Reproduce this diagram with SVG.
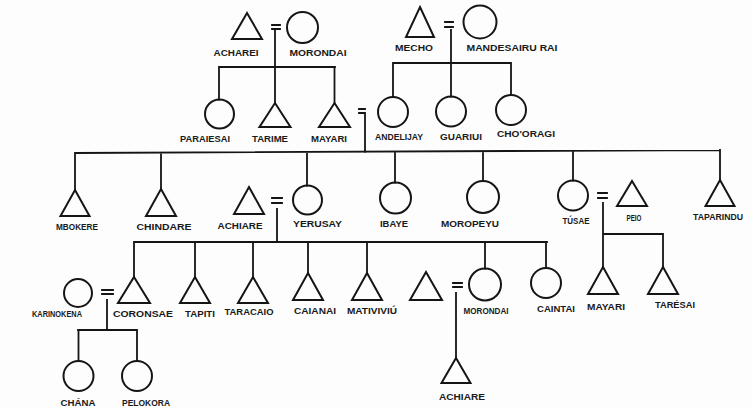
<svg xmlns="http://www.w3.org/2000/svg" width="752" height="408" viewBox="0 0 752 408">
<style>
.s{fill:none;stroke:#151515;stroke-width:2}
.c{fill:none;stroke:#151515;stroke-width:1.8;stroke-linecap:square}
text{font-family:"Liberation Sans",Arial,sans-serif;font-weight:bold;font-size:8.5px;fill:#1a1a1a;text-anchor:middle}
</style>
<rect width="752" height="408" fill="#fdfdfd"/>
<g id="connectors" class="c">
<path d="M272 25H280M272 29H280M445 22H453M445 27H453M359 109H365M359 113H365M272 198H282M272 203H282M598 193H607M598 198H607M102 290H113M102 294H113M453 283H462M453 287H462"/>
<path d="M275 31V103M219 67H335M219 67V99.5M334.5 67V103"/>
<path d="M451 30V96.5M393 63H511M393 63V97M511 63V95"/>
<path d="M365 115V152M75 153L720 150M75 153V190M161 152.6V189M307 152V185.5M395 151.6V182.5M483 151.2V181M573 150.8V180.5M720 150V180"/>
<path d="M277 209V242M134 242H547M134 242V277M195 242V277M253 242V277M308 242V273M367 242V273M485 242V268.5M546 242V268"/>
<path d="M603 203V267M603 234H663M663 234V267"/>
<path d="M107 300V330M78 330H137M78.5 330V361M137 330V361"/>
<path d="M456 293V358"/>
</g>
<g id="n-acharei"><polygon class="s" points="247,13 262,39 232,39"/><text x="236" y="56" textLength="45" lengthAdjust="spacingAndGlyphs">ACHAREI</text></g>
<g id="n-morondai1"><circle class="s" cx="302.5" cy="27.5" r="15.5"/><text x="318" y="56" textLength="57" lengthAdjust="spacingAndGlyphs">MORONDAI</text></g>
<g id="n-mecho"><polygon class="s" points="420,7 434,37 406,37"/><text x="414" y="51" textLength="38" lengthAdjust="spacingAndGlyphs">MECHO</text></g>
<g id="n-mandesairu"><circle class="s" cx="480" cy="22" r="16.5"/><text x="512" y="51" textLength="91" lengthAdjust="spacingAndGlyphs">MANDESAIRU RAI</text></g>
<g id="n-paraiesai"><circle class="s" cx="219.5" cy="114" r="14.5"/><text x="205" y="142" textLength="50" lengthAdjust="spacingAndGlyphs">PARAIESAI</text></g>
<g id="n-tarime"><polygon class="s" points="275,103 290.5,127 259.5,127"/><text x="270" y="142" textLength="36" lengthAdjust="spacingAndGlyphs">TARIME</text></g>
<g id="n-mayari1"><polygon class="s" points="334.5,103 350,127 319,127"/><text x="329" y="142" textLength="36" lengthAdjust="spacingAndGlyphs">MAYARI</text></g>
<g id="n-andelijay"><circle class="s" cx="393" cy="112" r="15"/><text x="399" y="140" textLength="48" lengthAdjust="spacingAndGlyphs">ANDELIJAY</text></g>
<g id="n-guariui"><circle class="s" cx="451" cy="111.5" r="15"/><text x="461" y="140" textLength="42" lengthAdjust="spacingAndGlyphs">GUARIUI</text></g>
<g id="n-choragi"><circle class="s" cx="511" cy="110" r="15"/><text x="526" y="137" textLength="58" lengthAdjust="spacingAndGlyphs">CHO'ORAGI</text></g>
<g id="n-mbokere"><polygon class="s" points="75,190 89.5,216 60.5,216"/><text x="77" y="230" textLength="42" lengthAdjust="spacingAndGlyphs">MBOKERE</text></g>
<g id="n-chindare"><polygon class="s" points="161,189 176,216 146,216"/><text x="164" y="230" textLength="55" lengthAdjust="spacingAndGlyphs">CHINDARE</text></g>
<g id="n-achiare1"><polygon class="s" points="249,187 264,214 234,214"/><text x="240" y="229" textLength="45" lengthAdjust="spacingAndGlyphs">ACHIARE</text></g>
<g id="n-yerusay"><circle class="s" cx="307.5" cy="200" r="14.5"/><text x="317.5" y="227" textLength="49" lengthAdjust="spacingAndGlyphs">YERUSAY</text></g>
<g id="n-ibaye"><circle class="s" cx="395.5" cy="198" r="15.5"/><text x="394" y="227" textLength="28" lengthAdjust="spacingAndGlyphs">IBAYE</text></g>
<g id="n-moropeyu"><circle class="s" cx="483" cy="197" r="16"/><text x="470" y="227" textLength="58" lengthAdjust="spacingAndGlyphs">MOROPEYU</text></g>
<g id="n-tusae"><circle class="s" cx="573" cy="195.5" r="15"/><text x="576" y="224" textLength="27" lengthAdjust="spacingAndGlyphs">TÚSAE</text></g>
<g id="n-peio"><polygon class="s" points="632,181 647,206 617,206"/><text x="634" y="221" textLength="15" lengthAdjust="spacingAndGlyphs">PEIO</text></g>
<g id="n-taparindu"><polygon class="s" points="720,180 734.5,206 705.5,206"/><text x="718" y="220" textLength="50" lengthAdjust="spacingAndGlyphs">TAPARINDU</text></g>
<g id="n-karinokena"><circle class="s" cx="78" cy="293" r="14"/><text x="57" y="317" textLength="50" lengthAdjust="spacingAndGlyphs">KARINOKENA</text></g>
<g id="n-coronsae"><polygon class="s" points="134,277 150,303 118,303"/><text x="143" y="317" textLength="60" lengthAdjust="spacingAndGlyphs">CORONSAE</text></g>
<g id="n-tapiti"><polygon class="s" points="195,277 210,303 180,303"/><text x="200" y="317" textLength="30" lengthAdjust="spacingAndGlyphs">TAPITI</text></g>
<g id="n-taracaio"><polygon class="s" points="253,277 268,303 238,303"/><text x="249" y="315" textLength="49" lengthAdjust="spacingAndGlyphs">TARACAIO</text></g>
<g id="n-caianai"><polygon class="s" points="308,273 323,300 293,300"/><text x="315" y="314" textLength="42" lengthAdjust="spacingAndGlyphs">CAIANAI</text></g>
<g id="n-mativiviu"><polygon class="s" points="367,273 382,300 352,300"/><text x="372" y="314" textLength="50" lengthAdjust="spacingAndGlyphs">MATIVIVIÚ</text></g>
<g id="n-unnamed"><polygon class="s" points="426,272 442,300 410,300"/></g>
<g id="n-morondai2"><circle class="s" cx="485" cy="284.5" r="16"/><text x="486" y="314" textLength="45" lengthAdjust="spacingAndGlyphs">MORONDAI</text></g>
<g id="n-caintai"><circle class="s" cx="546" cy="283" r="15"/><text x="556" y="312" textLength="38" lengthAdjust="spacingAndGlyphs">CAINTAI</text></g>
<g id="n-mayari2"><polygon class="s" points="603,267 618,294 588,294"/><text x="606" y="310" textLength="38" lengthAdjust="spacingAndGlyphs">MAYARI</text></g>
<g id="n-taresai"><polygon class="s" points="663,267 678,294 648,294"/><text x="675" y="308" textLength="40" lengthAdjust="spacingAndGlyphs">TARÉSAI</text></g>
<g id="n-chana"><circle class="s" cx="78.5" cy="376" r="15"/><text x="78" y="406" textLength="35" lengthAdjust="spacingAndGlyphs">CHÁNA</text></g>
<g id="n-pelokora"><circle class="s" cx="137" cy="376" r="15"/><text x="146" y="406" textLength="48" lengthAdjust="spacingAndGlyphs">PELOKORA</text></g>
<g id="n-achiare2"><polygon class="s" points="456,358 470.5,383 441.5,383"/><text x="462" y="400" textLength="46" lengthAdjust="spacingAndGlyphs">ACHIARE</text></g>
</svg>
